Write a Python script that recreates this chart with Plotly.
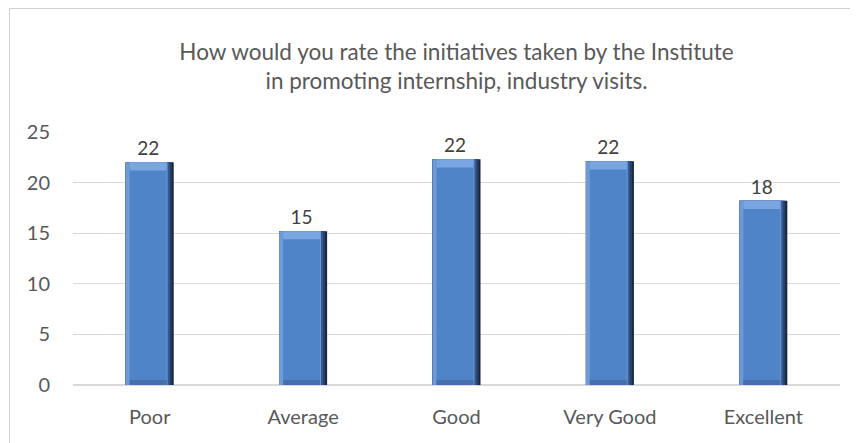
import plotly.graph_objects as go

categories = ["Poor", "Average", "Good", "Very Good", "Excellent"]
values = [22.0, 15.2, 22.3, 22.1, 18.2]
labels = ["22", "15", "22", "22", "18"]
y_ticks = [0, 5, 10, 15, 20, 25]

FONT = "Lato, Carlito, Calibri, sans-serif"
GREY = "#595959"

BW = 0.313          # bar width in category units
L0 = -BW / 2        # left offset
BEV_TOP = 0.8       # bevel cap heights (axis units)
BEV_BOT = 0.5

fig = go.Figure()

def layer(off, w, color, y=None, base=None, **kw):
    fig.add_trace(go.Bar(x=categories, y=y if y is not None else values, base=base,
                         offset=off, width=w,
                         marker=dict(color=color, line=dict(width=0)),
                         hoverinfo="skip", showlegend=False, **kw))

# bevel shading layers
layer(L0, BW, "#16263f")
layer(L0, BW - 0.012, "#253f66")
layer(L0, BW - 0.026, "#355a8f")
layer(L0, BW - 0.040, "#6f9ad6")
# main face
fig.add_trace(go.Bar(x=categories, y=values, offset=L0 + 0.026, width=BW - 0.026 - 0.046,
                     marker=dict(color="#5084c8", line=dict(width=0)),
                     text=labels, textposition="outside",
                     textfont=dict(size=19, color="#404040", family=FONT),
                     cliponaxis=False, showlegend=False, hoverinfo="skip"))
# top highlight cap
layer(L0 + 0.026, BW - 0.026 - 0.046, "#79a5e0",
      y=[BEV_TOP] * len(values), base=[v - BEV_TOP for v in values])
# bottom dark cap
layer(L0 + 0.026, BW - 0.026 - 0.046, "#4570ad",
      y=[BEV_BOT] * len(values), base=[0] * len(values))

fig.update_layout(
    width=850, height=435,
    barmode="overlay",
    paper_bgcolor="white", plot_bgcolor="white",
    margin=dict(l=65, r=18, t=124, b=58),
    title=dict(text="How would you rate the initiatives taken by the Institute<br>in promoting internship, industry visits.",
               x=0.5, xanchor="center", xref="paper", yref="container", y=1 - 52 / 435, yanchor="top",
               font=dict(size=22.5, color=GREY, family=FONT)),
    font=dict(family=FONT, color=GREY, size=20),
    shapes=[dict(type="rect", xref="paper", yref="paper", x0=-0.0828, x1=1.05, y0=-0.3, y1=1.488,
                 line=dict(color="#cfcfcf", width=1), layer="above")],
)
fig.update_xaxes(showline=False, ticks="", tickfont=dict(size=20, color=GREY, family=FONT),
                 ticklabelstandoff=18)
fig.update_yaxes(range=[0, 25], tickvals=y_ticks, showgrid=True, gridcolor="#d9d9d9",
                 gridwidth=1, zeroline=True, zerolinecolor="#d9d9d9", showline=False,
                 ticks="", ticklabelstandoff=22, tickfont=dict(size=20, color=GREY, family=FONT))

fig.write_html("out.html")
